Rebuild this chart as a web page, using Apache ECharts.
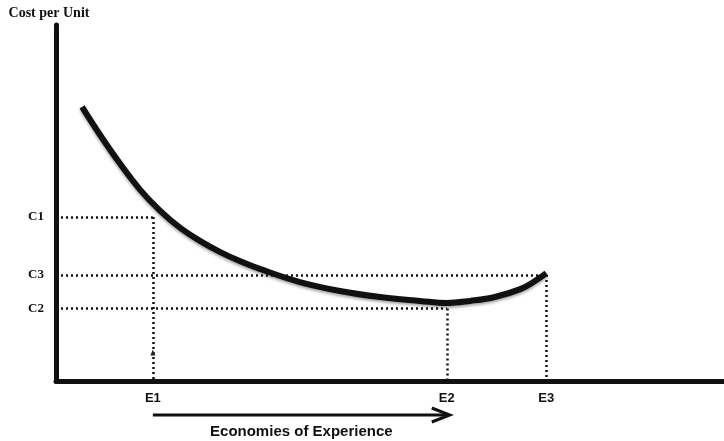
<!DOCTYPE html>
<html>
<head>
<meta charset="utf-8">
<script src="https://cdn.jsdelivr.net/npm/echarts@6/dist/echarts.min.js"></script>
<style>html,body{margin:0;padding:0;background:#fff;}#c{width:724px;height:441px;}</style>
</head>
<body>
<div id="c"></div>
<script>
// Curve: cost per unit vs experience (abstract 0-100 units)
const curveX = [3.9, 6.6, 9.6, 12.6, 15.6, 18.6, 21.6, 24.6, 27.5, 30.5, 36.5, 42.5, 48.5, 54.5, 58.5, 62.0, 65.7, 69.5, 71.7, 73.4];
const curveY = [77.0, 69.1, 61.0, 53.7, 47.8, 43.0, 39.3, 36.2, 33.7, 31.5, 27.8, 25.3, 23.6, 22.5, 21.9, 22.5, 23.6, 25.8, 28.1, 30.3];
// Reference levels (paired by index: C1-E1, C2-E2, C3-E3)
const costNames = ['C1', 'C2', 'C3'];
const costValues = [46.1, 20.4, 29.8];
const expNames = ['E1', 'E2', 'E3'];
const expValues = [14.5, 58.5, 73.4];
const yTitle = 'Cost per Unit';
const xTitle = 'Economies of Experience';

const chart = echarts.init(document.getElementById('c'));
const curve = curveX.map((x, i) => [x, curveY[i]]);
const ink = '#111';
const dotted = { color: '#111', width: 2.5, type: [2, 3] };

// dotted guides: horizontal from axis to each E, vertical from each C down to axis
const guides = [];
for (let i = 0; i < 3; i++) {
  guides.push([{ coord: [0, costValues[i]] }, { coord: [expValues[i], costValues[i]] }]);
  guides.push([{ coord: [expValues[i], costValues[i]] }, { coord: [expValues[i], 0] }]);
}

chart.setOption({
  animation: false,
  grid: { left: 56, right: 0, top: 25, bottom: 60 },
  xAxis: {
    type: 'value', min: 0, max: 100,
    splitLine: { show: false },
    axisTick: { show: false },
    axisLine: { lineStyle: { color: ink, width: 5 } },
    axisLabel: {
      customValues: expValues,
      formatter: v => expNames[expValues.indexOf(v)] || '',
      margin: 11,
      color: ink, fontFamily: 'Liberation Sans', fontWeight: 'bold', fontSize: 13
    }
  },
  yAxis: {
    type: 'value', min: 0, max: 100,
    splitLine: { show: false },
    axisTick: { show: false },
    axisLine: { lineStyle: { color: ink, width: 5 } },
    name: yTitle, nameLocation: 'end', nameGap: 5,
    nameTextStyle: { color: ink, fontFamily: 'Liberation Serif', fontWeight: 'bold', fontSize: 14, align: 'center', padding: [0, 14, 0, 0] },
    axisLabel: {
      customValues: costValues,
      formatter: v => costNames[costValues.indexOf(v)] || '',
      margin: 12,
      color: ink, fontFamily: 'Liberation Serif', fontWeight: 'bold', fontSize: 13
    }
  },
  series: [{
    type: 'line',
    data: curve,
    smooth: 0.4,
    showSymbol: false,
    z: 3,
    lineStyle: { color: ink, width: 6, shadowColor: 'rgba(0,0,0,0.35)', shadowBlur: 3, shadowOffsetY: 2 },
    markLine: {
      silent: true, symbol: ['none', 'none'],
      label: { show: false },
      lineStyle: dotted,
      data: guides
    },
    markPoint: {
      silent: true,
      symbol: 'triangle', symbolSize: [5, 6],
      itemStyle: { color: '#222' },
      label: { show: false },
      data: [{ coord: [expValues[0], 8] }]
    }
  }]
});

// arrow + caption below the axis, anchored to E1..E2 through the x scale
const x1 = chart.convertToPixel({ xAxisIndex: 0 }, expValues[0]);
const x2 = chart.convertToPixel({ xAxisIndex: 0 }, expValues[1]) + 3;
const ay = 415;
chart.setOption({
  graphic: [
    { type: 'line', shape: { x1: x1, y1: ay, x2: x2 - 2, y2: ay }, style: { stroke: ink, lineWidth: 3 } },
    { type: 'polyline', shape: { points: [[x2 - 18, ay - 7], [x2, ay], [x2 - 18, ay + 7]] }, style: { stroke: ink, lineWidth: 3, fill: null } },
    { type: 'text', x: (x1 + x2) / 2, y: 432, style: { text: xTitle, fill: ink, font: 'bold 15px "Liberation Sans"', align: 'center', verticalAlign: 'middle' } }
  ]
});
</script>
</body>
</html>
